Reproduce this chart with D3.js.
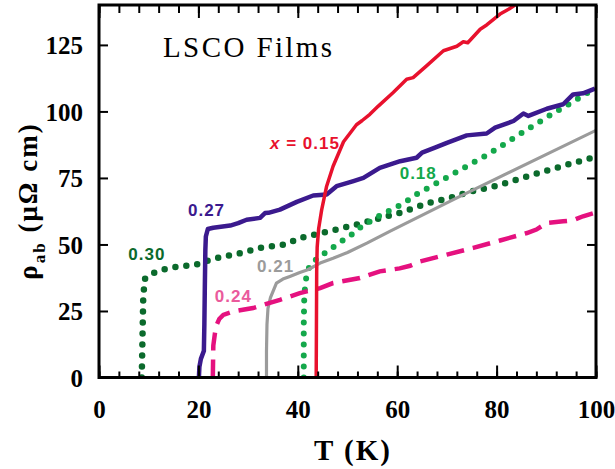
<!DOCTYPE html>
<html>
<head>
<meta charset="utf-8">
<script src="https://cdn.jsdelivr.net/npm/d3@7"></script>
<style>
  body { margin: 0; background: #fff; }
  svg { display: block; }
  .tick-label { font-family: 'Liberation Serif', 'Times New Roman', serif; font-weight: bold; font-size: 25px; fill: #000; }
  .series-label { font-family: 'Liberation Sans', Arial, sans-serif; font-weight: bold; font-size: 17px; letter-spacing: 1px; }
</style>
</head>
<body>
<div id="chart"></div>
<script>
// axis ticks
const xMajorTicks = [0, 20, 40, 60, 80, 100];
const xMinorTicks = d3.range(0, 101, 4);
const yMajorTicks = [0, 25, 50, 75, 100, 125];

// rho_ab (micro-ohm cm) vs T (K)
const seriesX015 = [[43.7,0],[43.75,20],[43.8,40],[43.9,49],[44.2,56],[44.8,63],[45.8,71.9],[47.1,79.4],[49.2,88.6],[51.8,95],[52.9,96.5],[54.5,98.9],[56.2,102],[59.2,107.1],[61.9,112.1],[63.2,112.7],[65.9,117.1],[69.3,122.8],[72,124.5],[73.3,126.2],[74.2,125.8],[76.7,130.9],[78,132.5],[80.7,136.6],[82.5,138.5],[84,140.4]];
const seriesX018 = [[41.2,0],[41.2,10],[41.2,20],[41.3,30],[41.5,35],[41.9,40],[42.8,43],[44.5,45.5],[46.6,48.3],[48.8,51.2],[50.8,53.7],[53,57],[57.5,61.9],[59.6,63.8],[61.6,65.9],[63.6,68.5],[65.9,70.9],[72.1,77.4],[78.5,84.1],[84.8,91.6],[91.3,99.2],[95.6,103.9],[100,109]];
const seriesX021 = [[33.7,0],[33.7,10],[33.8,20],[34,26],[34.5,30],[35.7,35.5],[37,37],[38.4,38],[40.4,39.5],[42,40.5],[44.5,43],[47.1,44.8],[50,47],[53.9,50.5],[58.6,55],[72,67.5],[100,92.9]];
const seriesX024 = [[22.9,0],[23,12],[23.5,19],[24.2,22],[25,23.5],[27,24.8],[31,26.1],[36.4,29.2],[40.4,31.7],[44.5,33.6],[47.1,35.5],[52.5,37.4],[56.5,39.9],[60.5,41],[62.6,42],[64.6,43.6],[70,46.2],[75.3,48.7],[80.7,51.5],[86.1,54.3],[88,55.6],[90.1,58.1],[93.4,58.7],[95.4,59.1],[97.4,60.6],[100,62]];
const seriesX027 = [[20.1,0],[20.2,4],[20.5,7],[21.1,10],[21.2,20],[21.3,35],[21.4,48],[21.5,53],[21.9,55.8],[23,56.3],[26.4,57.1],[28,58],[29.7,59.3],[32.4,60],[33.4,61.8],[34.1,61.9],[36.4,63.1],[39.8,66],[43.1,68.4],[45.8,68.8],[47.8,71.9],[51.2,73.8],[53.2,75],[56.5,78.8],[60.6,81.3],[63.9,82.6],[65,84.5],[67.6,86.4],[70,88.2],[74,91],[78,91.7],[79.7,93.9],[83.4,96.4],[85.4,99.2],[86.4,98.3],[90.1,101],[93.4,102.7],[95.4,106.4],[97.4,106.8],[99.8,108.6]];
const seriesX030 = [[8.6,0],[8.7,10],[8.8,20],[8.9,30],[9.2,37],[10.6,39],[12.8,40.5],[15,41.4],[17.3,42],[19.4,42.3],[21.3,43.6],[23.7,44.9],[28,46.5],[32.4,48.7],[37.1,49.9],[41.2,52.8],[43.5,53.7],[47.8,55.6],[51.8,57.5],[60.6,61.9],[66.3,65.6],[70.6,67.5],[75,70],[79.7,71.9],[86,75.5],[93.1,79.4],[100,83]];

// series labels: text, anchor T, anchor rho
const labelText = ['0.27', '0.30', '0.21', '0.24', '0.18'];
const labelT = [17.9, 5.9, 31.8, 23.3, 60.5];
const labelRho = [60.7, 44, 39.8, 28.5, 74.7];

const W = 615, H = 469;
const margin = {top: 5, right: 19, bottom: 91.5, left: 99};
const width = W - margin.left - margin.right;
const height = H - margin.top - margin.bottom;

const svg = d3.select('#chart').append('svg')
  .attr('width', W)
  .attr('height', H);

const g = svg.append('g')
  .attr('transform', 'translate(' + margin.left + ',' + margin.top + ')');

const x = d3.scaleLinear().domain([0, 100]).range([0, width]);
const y = d3.scaleLinear().domain([0, 140]).range([height, 0]);

svg.append('defs').append('clipPath').attr('id', 'plot-clip')
  .append('rect').attr('width', width).attr('height', height);

const lineX = d3.line().x(d => x(d[0])).y(d => y(d[1]));

const plot = g.append('g').attr('clip-path', 'url(#plot-clip)');

// dotted series
plot.append('path').datum(seriesX030)
  .attr('d', lineX).attr('fill', 'none')
  .attr('stroke', '#0b6a2c').attr('stroke-width', 6.5)
  .attr('stroke-linecap', 'round').attr('stroke-dasharray', '0 11');

plot.append('path').datum(seriesX018)
  .attr('d', lineX).attr('fill', 'none')
  .attr('stroke', '#14a84b').attr('stroke-width', 6)
  .attr('stroke-linecap', 'round').attr('stroke-dasharray', '0 11');

plot.append('path').datum(seriesX021)
  .attr('d', lineX).attr('fill', 'none')
  .attr('stroke', '#9b9b9b').attr('stroke-width', 3.2)
  .attr('stroke-linejoin', 'round');

plot.append('path').datum(seriesX024)
  .attr('d', lineX).attr('fill', 'none')
  .attr('stroke', '#e5117f').attr('stroke-width', 4.5)
  .attr('stroke-dasharray', '18 9');

plot.append('path').datum(seriesX027)
  .attr('d', lineX).attr('fill', 'none')
  .attr('stroke', '#3b1a8e').attr('stroke-width', 4.5)
  .attr('stroke-linejoin', 'round');

plot.append('path').datum(seriesX015)
  .attr('d', lineX).attr('fill', 'none')
  .attr('stroke', '#e8112d').attr('stroke-width', 3.5)
  .attr('stroke-linejoin', 'round');

// axes: ticks point inwards
const tickStyle = sel => {
  sel.select('.domain').remove();
  sel.selectAll('line').attr('stroke', '#000').attr('stroke-width', 2);
};

g.append('g').attr('transform', 'translate(0,' + height + ')')
  .call(d3.axisBottom(x).tickValues(xMinorTicks).tickSize(-6).tickFormat(''))
  .call(tickStyle);
g.append('g').attr('transform', 'translate(0,' + height + ')')
  .call(d3.axisBottom(x).tickValues(xMajorTicks).tickSize(-12).tickFormat(d3.format('d')))
  .call(tickStyle)
  .call(a => a.selectAll('text').attr('class', 'tick-label').attr('y', 40).attr('dy', null));

g.append('g')
  .call(d3.axisTop(x).tickValues(xMinorTicks).tickSize(-8).tickFormat(''))
  .call(tickStyle);
g.append('g')
  .call(d3.axisTop(x).tickValues(xMajorTicks).tickSize(-13).tickFormat(''))
  .call(tickStyle);

g.append('g')
  .call(d3.axisLeft(y).tickValues(yMajorTicks).tickSize(-9).tickPadding(16).tickFormat(d3.format('d')))
  .call(tickStyle)
  .call(a => a.selectAll('text').attr('class', 'tick-label').attr('dy', '0.36em'));

g.append('g').attr('transform', 'translate(' + width + ',0)')
  .call(d3.axisRight(y).tickValues(yMajorTicks).tickSize(-9).tickFormat(''))
  .call(tickStyle);

// frame
g.append('rect')
  .attr('width', width).attr('height', height)
  .attr('fill', 'none').attr('stroke', '#000').attr('stroke-width', 3);

// axis titles
svg.append('text')
  .attr('x', 353).attr('y', 460)
  .attr('text-anchor', 'middle')
  .style('font-family', "'Liberation Serif', 'Times New Roman', serif")
  .style('font-weight', 'bold').style('font-size', '29px').style('letter-spacing', '2px')
  .text('T (K)');

const yTitle = svg.append('text')
  .attr('transform', 'translate(37,201) rotate(-90)')
  .attr('text-anchor', 'middle')
  .style('font-family', "'Liberation Serif', 'Times New Roman', serif")
  .style('font-weight', 'bold').style('font-size', '27px').style('letter-spacing', '2px');
yTitle.append('tspan').text('ρ');
yTitle.append('tspan').attr('dy', 8).style('font-size', '17px').text('ab');
yTitle.append('tspan').attr('dy', -8).text(' (μΩ cm)');

// panel title
svg.append('text')
  .attr('x', 163).attr('y', 56.5)
  .style('font-family', "'Liberation Serif', 'Times New Roman', serif")
  .style('font-size', '29px').style('letter-spacing', '2.4px')
  .text('LSCO Films');

// series labels
const labelColors = ['#3b1a8e', '#0b6a2c', '#9b9b9b', '#ea5a9c', '#14a84b'];
g.selectAll('.series-label-small')
  .data(labelText)
  .enter()
  .append('text')
  .attr('class', 'series-label')
  .attr('x', (d, i) => x(labelT[i]))
  .attr('y', (d, i) => y(labelRho[i]))
  .style('fill', (d, i) => labelColors[i])
  .text(d => d);

const redLabel = g.append('text')
  .attr('class', 'series-label')
  .attr('x', x(34.4)).attr('y', y(85.7))
  .style('fill', '#e8112d');
redLabel.append('tspan').style('font-style', 'italic').text('x');
redLabel.append('tspan').text(' = 0.15');
</script>
</body>
</html>
